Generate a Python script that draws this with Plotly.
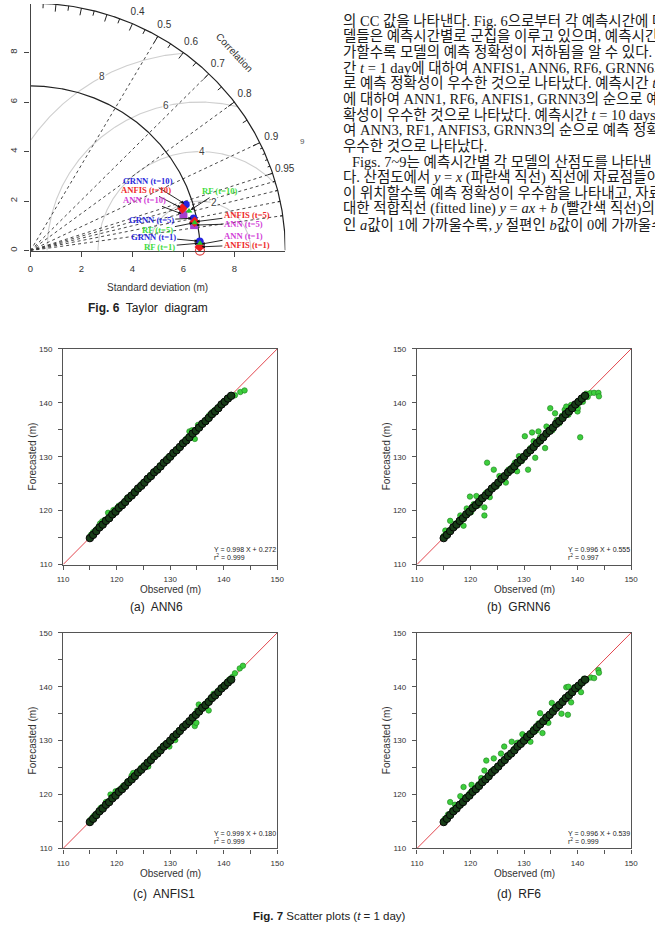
import numpy as np
import plotly.graph_objects as go

W, H = 655, 928


def px(x):
    return x / W


def py(y):
    return 1 - y / H


# ---------------- Taylor diagram data ----------------
ref_sd = 6.65
max_sd = 10.0
rms_levels = [2, 4, 6, 8]
rms_label_deg = [74, 89, 103, 118.6]
corr_label_vals = [0.1, 0.2, 0.3, 0.4, 0.5, 0.6, 0.7, 0.8, 0.9, 0.95, 0.99]
corr_line_vals = [0.5, 0.7, 0.8, 0.9, 0.95, 0.96, 0.97, 0.98, 0.99]
big_tick_vals = [0.1, 0.2, 0.3, 0.4, 0.5, 0.6, 0.7, 0.8, 0.9]
med_tick_vals = [0.05, 0.15, 0.25, 0.35, 0.45, 0.55, 0.65, 0.75, 0.85, 0.95]
small_tick_vals = [0.91, 0.92, 0.93, 0.94, 0.96, 0.97, 0.98, 0.99]

time_steps = [1, 5, 10]
grnn_sd = [6.651, 6.533, 6.377]
grnn_cc = [0.9984, 0.9797, 0.9566]
anfis_sd = [6.642, 6.544, 6.198]
anfis_cc = [0.99975, 0.9841, 0.9616]
ann_sd = [6.645, 6.502, 6.175]
ann_cc = [0.99929, 0.9874, 0.9717]
rf_sd = [6.657, 6.538, 6.422]
rf_cc = [0.99898, 0.9850, 0.9685]

# ---------------- Scatter plot data (t = 1 day) ----------------
core_obs = [115.0, 115.6, 116.2, 116.8, 117.4, 118.0, 118.6, 119.2, 119.8, 120.4,
            121.0, 121.6, 122.2, 122.8, 123.4, 124.0, 124.6, 125.2, 125.8, 126.4,
            127.0, 127.6, 128.2, 128.8, 129.4, 130.0, 130.6, 131.2, 131.8, 132.4,
            133.0, 133.6, 134.2, 134.8, 135.4, 136.0, 136.6, 137.2, 137.8, 138.4,
            139.0, 139.6, 140.2, 140.8, 141.4]
core_fc = [114.9, 115.5, 116.2, 116.9, 117.4, 118.1, 118.6, 119.3, 119.8, 120.5,
           121.0, 121.6, 122.3, 122.8, 123.4, 124.1, 124.6, 125.2, 125.9, 126.4,
           127.1, 127.6, 128.2, 128.9, 129.4, 130.0, 130.7, 131.2, 131.8, 132.5,
           133.0, 133.6, 134.3, 134.8, 135.4, 136.1, 136.6, 137.2, 137.9, 138.4,
           139.0, 139.7, 140.2, 140.8, 141.3]

ann6_pts = [(115.2, 115.5), (115.6, 116.0), (116.3, 116.6), (116.9, 117.6), (117.3, 118.0),
            (117.8, 118.3), (118.4, 119.6), (118.9, 119.2), (119.4, 120.1), (119.9, 120.3),
            (120.4, 120.9), (121.2, 121.4), (121.9, 122.3), (122.6, 122.9), (123.3, 123.6),
            (124.1, 124.3), (124.8, 125.1), (125.6, 125.7), (126.3, 126.6), (127.2, 127.4),
            (128.1, 128.4), (128.9, 129.1), (129.6, 129.9), (130.4, 130.3), (131.3, 131.5),
            (132.2, 132.5), (133.1, 133.4), (133.6, 134.7), (134.1, 134.9), (134.6, 133.3),
            (135.2, 135.9), (135.9, 136.1), (136.7, 136.9), (137.3, 137.7), (137.9, 138.3),
            (138.4, 138.7), (139.2, 139.4), (139.9, 140.1), (140.6, 140.8), (141.3, 141.2),
            (142.1, 141.4), (143.1, 142.0), (143.9, 142.3)]
grnn6_pts = [(115.0, 115.3), (115.3, 116.3), (115.8, 115.6), (116.2, 118.1), (116.7, 117.0),
             (117.2, 117.6), (117.5, 117.5), (118.1, 119.1), (118.7, 117.2), (119.3, 120.4),
             (119.9, 122.6), (120.1, 119.7), (120.6, 121.2), (121.1, 122.7), (121.5, 121.0),
             (122.0, 122.4), (122.6, 120.6), (122.6, 119.1), (122.9, 123.3), (123.1, 128.9),
             (123.6, 122.5), (124.35, 127.6), (124.9, 124.5), (125.4, 126.4), (125.9, 126.3),
             (126.6, 125.2), (127.1, 127.6), (127.7, 128.0), (128.3, 128.9), (128.7, 127.3),
             (129.05, 130.1), (129.6, 129.2), (130.15, 133.8), (130.76, 127.6), (131.2, 131.6),
             (131.5, 134.5), (131.8, 132.85), (132.1, 129.8), (132.7, 134.7), (133.0, 133.6),
             (133.3, 133.2), (133.94, 131.6), (134.2, 135.6), (134.6, 135.0), (134.9, 139.0),
             (135.3, 134.9), (135.8, 138.05), (136.1, 136.8), (136.6, 136.2), (137.1, 137.6),
             (137.6, 138.7), (137.9, 139.3), (138.3, 137.8), (138.8, 139.6), (139.3, 139.5),
             (140.0, 138.4), (140.05, 139.0), (140.5, 133.6), (141.0, 140.2), (141.6, 141.7),
             (141.9, 141.1), (142.4, 141.8), (143.1, 141.85), (143.9, 141.85), (144.0, 141.2)]
anfis1_pts = [(115.1, 115.3), (115.7, 116.0), (116.4, 116.6), (117.0, 117.5), (117.3, 117.7),
              (118.0, 118.6), (118.85, 120.0), (119.4, 119.9), (119.8, 120.6), (120.5, 120.9),
              (121.2, 121.6), (122.0, 122.4), (122.8, 123.5), (123.1, 124.0), (123.8, 124.1),
              (124.6, 125.0), (125.2, 125.5), (125.9, 125.2), (126.5, 126.8), (127.3, 127.6),
              (128.2, 128.5), (129.0, 129.3), (129.85, 128.9), (130.4, 130.3), (130.95, 130.1),
              (131.6, 131.9), (132.4, 132.7), (133.1, 133.3), (133.5, 133.2), (134.1, 133.8),
              (134.6, 132.7), (134.9, 133.3), (135.04, 135.6), (135.34, 136.7), (135.9, 136.2),
              (136.6, 136.9), (137.2, 135.6), (137.5, 137.8), (138.1, 138.7), (138.4, 138.2),
              (139.0, 139.3), (139.6, 139.9), (140.3, 140.5), (141.0, 141.3), (141.6, 141.8),
              (142.1, 142.5), (143.0, 143.4), (143.6, 143.9)]
rf6_pts = [(115.2, 115.5), (115.8, 116.3), (116.2, 118.6), (116.6, 117.1), (117.1, 118.1),
           (117.6, 118.0), (118.1, 119.7), (118.7, 121.4), (119.2, 119.6), (119.9, 120.3),
           (120.2, 121.8), (120.8, 121.1), (121.5, 121.9), (122.0, 123.05), (122.6, 124.45),
           (122.95, 126.3), (123.4, 123.2), (124.1, 124.5), (124.35, 126.7), (125.0, 125.3),
           (125.7, 127.6), (126.3, 128.9), (126.9, 127.2), (127.7, 129.8), (128.3, 128.6),
           (128.75, 129.6), (129.3, 129.7), (129.7, 131.2), (130.4, 130.8), (131.2, 129.8),
           (131.8, 132.2), (132.3, 131.9), (132.7, 133.2), (133.0, 135.1), (133.45, 131.4),
           (133.9, 134.3), (134.25, 134.4), (134.55, 133.3), (135.2, 137.0), (135.6, 135.9),
           (136.4, 136.7), (137.0, 135.0), (137.3, 137.6), (137.9, 139.9), (138.2, 134.8),
           (138.3, 140.0), (138.8, 137.1), (139.4, 139.9), (139.9, 139.6), (140.65, 139.0),
           (141.2, 141.5), (141.7, 141.3), (142.5, 141.7), (143.1, 141.6), (143.9, 143.1),
           (144.0, 142.6)]

panel_names = ["(a)  ANN6", "(b)  GRNN6", "(c)  ANFIS1", "(d)  RF6"]
panel_eq = ["Y = 0.998 X + 0.272", "Y = 0.996 X + 0.555", "Y = 0.999 X + 0.180", "Y = 0.996 X + 0.539"]
panel_r2 = ["0.999", "0.997", "0.999", "0.999"]
axis_ticks = [110, 120, 130, 140, 150]
axis_minor = [115, 125, 135, 145]
diag_line = [110, 150]

text_lines = [
    "의 CC 값을 나타낸다. Fig. 6으로부터 각 예측시간에 대한 모",
    "델들은 예측시간별로 군집을 이루고 있으며, 예측시간이 증",
    "가할수록 모델의 예측 정확성이 저하됨을 알 수 있다. 예측시",
    "간 <i>t</i> = 1 day에 대하여 ANFIS1, ANN6, RF6, GRNN6의 순으",
    "로 예측 정확성이 우수한 것으로 나타났다. 예측시간 <i>t</i> = 5 days",
    "에 대하여 ANN1, RF6, ANFIS1, GRNN3의 순으로 예측 정",
    "확성이 우수한 것으로 나타났다. 예측시간 <i>t</i> = 10 days에 대하",
    "여 ANN3, RF1, ANFIS3, GRNN3의 순으로 예측 정확성이",
    "우수한 것으로 나타났다.",
    "Figs. 7~9는 예측시간별 각 모델의 산점도를 나타낸",
    "다. 산점도에서 <i>y</i> = <i>x</i> (파란색 직선) 직선에 자료점들이 가까",
    "이 위치할수록 예측 정확성이 우수함을 나타내고, 자료점에",
    "대한 적합직선 (fitted line) <i>y</i> = <i>ax</i> + <i>b</i> (빨간색 직선)의 기울기",
    "인 <i>a</i>값이 1에 가까울수록, <i>y</i> 절편인 <i>b</i>값이 0에 가까울수록",
]

# ---------------- figure ----------------
fig = go.Figure()

TX, TY = "x", "y"


def polar_xy(sd, cc):
    sd = np.asarray(sd, float)
    cc = np.asarray(cc, float)
    return sd * cc, sd * np.sqrt(np.clip(1 - cc ** 2, 0, None))


def paper_text(x, y, text, size, family="Liberation Sans", color="#222", angle=0):
    fig.add_annotation(x=px(x), y=py(y), xref="paper", yref="paper", text=text, showarrow=False,
                       xanchor="center", yanchor="middle", textangle=angle,
                       font=dict(family=family, size=size, color=color))


# RMS (gray) arcs centred on the reference point
th = np.linspace(0, np.pi, 600)
for r in rms_levels:
    xc = ref_sd + r * np.cos(th)
    yc = r * np.sin(th)
    ok = (xc ** 2 + yc ** 2 <= max_sd ** 2) & (xc >= 0)
    xc = np.where(ok, xc, np.nan)
    yc = np.where(ok, yc, np.nan)
    fig.add_trace(go.Scatter(x=xc, y=yc, mode="lines", line=dict(color="#cfcfcf", width=1.1),
                             xaxis=TX, yaxis=TY, hoverinfo="skip"))

# correlation dotted lines
lx, ly = [], []
for c in corr_line_vals:
    a = np.arccos(c)
    lx += [0, max_sd * np.cos(a), None]
    ly += [0, max_sd * np.sin(a), None]
fig.add_trace(go.Scatter(x=lx, y=ly, mode="lines", line=dict(color="#333", width=0.9, dash="dot"),
                         xaxis=TX, yaxis=TY, hoverinfo="skip"))

# outer arc and reference arc
q = np.linspace(0, np.pi / 2, 300)
fig.add_trace(go.Scatter(x=max_sd * np.cos(q), y=max_sd * np.sin(q), mode="lines",
                         line=dict(color="#222", width=1.2), xaxis=TX, yaxis=TY, hoverinfo="skip",
                         cliponaxis=False))
fig.add_trace(go.Scatter(x=ref_sd * np.cos(q), y=ref_sd * np.sin(q), mode="lines",
                         line=dict(color="#222", width=1.2), xaxis=TX, yaxis=TY, hoverinfo="skip"))

# correlation ticks on the outer arc
for vals, frac in [(big_tick_vals, 0.97), (med_tick_vals, 0.98), (small_tick_vals, 0.99)]:
    tx, ty = [], []
    for c in vals:
        a = np.arccos(c)
        tx += [max_sd * np.cos(a), frac * max_sd * np.cos(a), None]
        ty += [max_sd * np.sin(a), frac * max_sd * np.sin(a), None]
    fig.add_trace(go.Scatter(x=tx, y=ty, mode="lines", line=dict(color="#222", width=1),
                             xaxis=TX, yaxis=TY, hoverinfo="skip"))

# correlation labels
ca = np.arccos(np.array(corr_label_vals))
fig.add_trace(go.Scatter(x=1.05 * max_sd * np.cos(ca), y=1.05 * max_sd * np.sin(ca), mode="text",
                         text=[str(v) for v in corr_label_vals],
                         textfont=dict(family="Liberation Sans", size=10, color="#333"),
                         cliponaxis=False, xaxis=TX, yaxis=TY, hoverinfo="skip"))

# reference (observed) point
fig.add_trace(go.Scatter(x=[ref_sd], y=[0], mode="markers",
                         marker=dict(symbol="circle-open", size=9, color="#e04040", line=dict(width=1.2)),
                         cliponaxis=False, xaxis=TX, yaxis=TY, hoverinfo="skip"))

# model points
model_style = [
    ("ANN", ann_sd, ann_cc, "square", "#a53fcf", 8),
    ("GRNN", grnn_sd, grnn_cc, "circle", "#2424e0", 7.5),
    ("ANFIS", anfis_sd, anfis_cc, "diamond", "#ee1c1c", 8),
    ("RF", rf_sd, rf_cc, "triangle-up", "#27c427", 6),
]
pts = {}
for name, sds, ccs, sym, col, sz in model_style:
    x, y = polar_xy(sds, ccs)
    pts[name] = (x, y)
    fig.add_trace(go.Scatter(x=x, y=y, mode="markers", marker=dict(symbol=sym, size=sz, color=col),
                             cliponaxis=False, xaxis=TX, yaxis=TY, hoverinfo="skip"))

label_colors = {"GRNN": "#2b2bdc", "ANFIS": "#ee2a2a", "ANN": "#d23fd8", "RF": "#3fdc3f"}
# (model, time index, label position in diagram units)
label_pos = [
    ("GRNN", 2, 4.62, 2.80), ("ANFIS", 2, 4.55, 2.45), ("ANN", 2, 4.49, 2.05), ("RF", 2, 7.42, 2.40),
    ("GRNN", 1, 4.74, 1.22), ("RF", 1, 5.00, 0.83), ("ANFIS", 1, 8.49, 1.43), ("ANN", 1, 8.36, 1.09),
    ("GRNN", 0, 4.81, 0.55), ("RF", 0, 5.07, 0.16), ("ANN", 0, 8.36, 0.57), ("ANFIS", 0, 8.49, 0.23),
]
for name, ti, lxp, lyp in label_pos:
    x, y = pts[name]
    fig.add_annotation(x=x[ti], y=y[ti], xref=TX, yref=TY, axref=TX, ayref=TY, ax=lxp, ay=lyp,
                       text="<b>%s (t=%d)</b>" % (name, time_steps[ti]), showarrow=True,
                       arrowhead=2, arrowsize=0.7, arrowwidth=0.9, arrowcolor="#111", standoff=2,
                       font=dict(family="Liberation Serif", size=8.6, color=label_colors[name]))

# RMS labels
for r, d in zip(rms_levels, rms_label_deg):
    a = np.radians(d)
    fig.add_annotation(x=ref_sd + r * np.cos(a), y=r * np.sin(a), xref=TX, yref=TY, text=str(r),
                       showarrow=False, bgcolor="white", borderpad=0,
                       font=dict(family="Liberation Sans", size=10, color="#444"))

fig.add_annotation(x=0.8 * max_sd, y=0.8 * max_sd, xref=TX, yref=TY, text="Correlation", textangle=47,
                   showarrow=False, font=dict(family="Liberation Sans", size=10, color="#333"))

taylor_axis = dict(showgrid=False, zeroline=False, showline=True, linecolor="#444", linewidth=1.2,
                   ticks="outside", ticklen=5, tickcolor="#444", tickvals=[0, 2, 4, 6, 8],
                   tickfont=dict(family="Liberation Sans", size=9.5, color="#333"))
fig.update_layout(
    xaxis=dict(domain=[px(25), px(285)], range=[0, 10], anchor="y", ticklabelstandoff=4, **taylor_axis),
    yaxis=dict(domain=[py(249), 1], range=[0, 249 / 25], anchor="x", tickangle=-90,
               ticklabelstandoff=4, **taylor_axis),
)

paper_text(154.5, 286, "Standard deviation (m)", 10, color="#333")
paper_text(144.5, 307, "<b>Fig. 6</b>  Taylor  diagram", 12)
paper_text(303, 139, "9", 8, color="#555")

# ---------------- body text ----------------
for i, line in enumerate(text_lines):
    xpos = 351 if line.startswith("Figs.") else 342
    fig.add_annotation(x=px(xpos), y=py(16.7 + 15.85 * i), xref="paper", yref="paper", text=line,
                       xanchor="left", yanchor="middle", showarrow=False,
                       font=dict(family="Liberation Serif, Noto Sans CJK KR", size=14.5, color="#1a1a1a"))

# ---------------- scatter panels ----------------
panel_pts = [ann6_pts, grnn6_pts, anfis1_pts, rf6_pts]
boxes = [(58.3, 276.7, 348.3, 566.0), (419.3, 637.7, 348.3, 566.0),
         (58.3, 276.7, 635.0, 852.7), (419.3, 637.7, 635.0, 852.7)]
caption_pos = [(153.3, 609.3), (523.3, 609.3), (161.7, 898.3), (523.3, 898.3)]

for k in range(4):
    xa = "x%d" % (k + 2)
    ya = "y%d" % (k + 2)
    l, r, t, b = boxes[k]
    common = dict(range=[110, 150], tickvals=axis_ticks, ticks="outside", ticklen=4, tickcolor="#555",
                  showline=True, linecolor="#555", linewidth=1.2, mirror=True, showgrid=False,
                  zeroline=False, tickfont=dict(family="Liberation Sans", size=8, color="#333"),
                  minor=dict(tickvals=axis_minor, ticks="outside", ticklen=4, tickcolor="#555"))
    fig.update_layout(**{
        "xaxis%d" % (k + 2): dict(domain=[px(l), px(r)], anchor=ya, ticklabelstandoff=3, **common),
        "yaxis%d" % (k + 2): dict(domain=[py(b), py(t)], anchor=xa, ticklabelstandoff=4, **common),
    })
    fig.add_trace(go.Scatter(x=diag_line, y=diag_line, mode="lines", line=dict(color="#e2464e", width=1),
                             xaxis=xa, yaxis=ya, hoverinfo="skip"))
    ox = [p[0] for p in panel_pts[k]]
    oy = [p[1] for p in panel_pts[k]]
    fig.add_trace(go.Scatter(x=ox, y=oy, mode="markers",
                             marker=dict(size=5.5, color="#3dce3d", line=dict(color="#1d7d1d", width=0.6)),
                             xaxis=xa, yaxis=ya, hoverinfo="skip"))
    fig.add_trace(go.Scatter(x=core_obs, y=core_fc, mode="markers",
                             marker=dict(size=7.5, color="#173d17", line=dict(color="#050505", width=1)),
                             xaxis=xa, yaxis=ya, hoverinfo="skip"))
    fig.add_annotation(x=137.9, y=112.8, xref=xa, yref=ya, text=panel_eq[k], xanchor="left",
                       yanchor="middle", showarrow=False,
                       font=dict(family="Liberation Sans", size=7, color="#222"))
    fig.add_annotation(x=137.9, y=111.35, xref=xa, yref=ya, text="r<sup>2</sup> = " + panel_r2[k],
                       xanchor="left", yanchor="middle", showarrow=False,
                       font=dict(family="Liberation Sans", size=7, color="#222"))
    paper_text((l + r) / 2, b + 25, "Observed (m)", 10, color="#333")
    paper_text(l - 31, (t + b) / 2, "Forecasted (m)", 10, color="#333", angle=-90)
    cx, cy = caption_pos[k]
    paper_text(cx, cy, panel_names[k], 12)

paper_text(330, 921, "<b>Fig. 7</b> Scatter plots (<i>t</i> = 1 day)", 11.5)

fig.update_layout(width=W, height=H, margin=dict(l=0, r=0, t=0, b=0), showlegend=False,
                  paper_bgcolor="white", plot_bgcolor="white")

fig.write_html("out.html", config={"displayModeBar": False})
